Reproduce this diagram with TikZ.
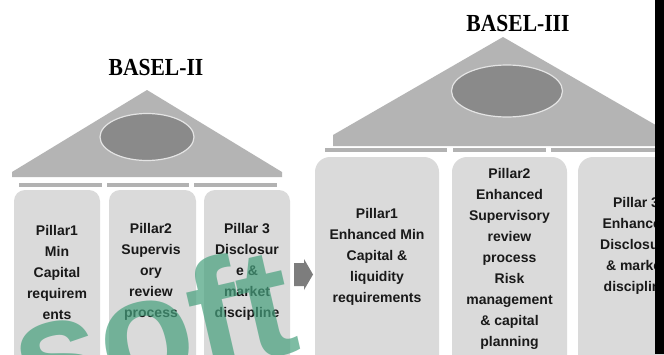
\documentclass[tikz,border=0pt]{standalone}
\usepackage{fontspec}
\setmainfont{Liberation Sans}
\newfontfamily\titlefont{Liberation Serif}
\usetikzlibrary{shapes.geometric}
\definecolor{roofgray}{RGB}{180,180,180}
\definecolor{ovalgray}{RGB}{138,138,138}
\definecolor{ovalrim}{RGB}{228,228,228}
\definecolor{boxgray}{RGB}{218,218,218}
\definecolor{bargray}{RGB}{178,178,178}
\definecolor{arrowgray}{RGB}{125,125,125}
\definecolor{wmgreen}{RGB}{70,160,125}
\definecolor{txt}{RGB}{25,25,25}
\begin{document}
\begin{tikzpicture}[x=1pt,y=-1pt,
  pillarbox/.style={fill=boxgray, draw=none, rounded corners=11pt},
  pillarboxb/.style={fill=boxgray, draw=none, rounded corners=15pt},
  bar/.style={fill=bargray, draw=none},
  roof/.style={fill=roofgray, draw=none},
  oval/.style={ellipse, fill=ovalgray, draw=ovalrim, line width=1.2pt, inner sep=0pt},
  ptext/.style={font=\bfseries\fontsize{14}{21}\selectfont, text=txt, align=center, inner sep=0pt},
  title/.style={font=\titlefont\bfseries\fontsize{24.5}{24.5}\selectfont, text=black, xscale=0.88, inner sep=0pt},
  wmark/.style={font=\bfseries\fontsize{155}{155}\selectfont, text=wmgreen, opacity=0.7, rotate=13, anchor=base west, inner sep=0pt}
]
\useasboundingbox (0,0) rectangle (664,354);
\clip (0,0) rectangle (664,354);
\fill[white] (0,0) rectangle (664,354);

% ---------- BASEL-II ----------
\node[title] (t2) at (156,68) {BASEL-II};
\fill[roof] (12,177) -- (12,172) -- (147,90) -- (282,172) -- (282,177) -- cycle;
\node[oval, minimum width=94pt, minimum height=47pt] (o2) at (147,137) {};
\fill[bar] (19,183) rectangle (102,187);
\fill[bar] (107,183) rectangle (189,187);
\fill[bar] (194,183) rectangle (277,187);
\fill[pillarbox] (14,190) rectangle (100,390);
\fill[pillarbox] (109,190) rectangle (196,390);
\fill[pillarbox] (204,190) rectangle (290,390);
\node[ptext] (a1) at (57,272) {Pillar1\\Min\\Capital\\requirem\\ents};
\node[ptext] (a2) at (151,272) {Pillar2\\Supervis\\ory\\review\\process};
\node[ptext] (a3) at (247,272) {Pillar 3\\Disclosur\\e \&\\market\\discipline};

% ---------- arrow ----------
\fill[arrowgray] (294,263) -- (304,263) -- (304,259) -- (313,274.5) -- (304,290) -- (304,286) -- (294,286) -- cycle;

% ---------- BASEL-III ----------
\node[title] (t3) at (518,24) {BASEL-III};
\fill[roof] (333,146) -- (333,135) -- (503,37) -- (673,135) -- (673,146) -- cycle;
\node[oval, minimum width=111pt, minimum height=52pt] (o3) at (507,91) {};
\fill[bar] (325,148) rectangle (447,152);
\fill[bar] (453,148) rectangle (546,152);
\fill[bar] (551,148) rectangle (660,152);
\fill[pillarboxb] (315,157) rectangle (439,390);
\fill[pillarboxb] (452,157) rectangle (567,390);
\fill[pillarboxb] (578,157) rectangle (694,390);
\node[ptext] (b1) at (377,257) {Pillar1\\Enhanced Min\\Capital \&\\liquidity\\requirements};
\node[ptext] (b2) at (509.5,259) {Pillar2\\Enhanced\\Supervisory\\review\\process\\Risk\\management\\\& capital\\planning};
\node[ptext] (b3) at (636,246) {Pillar 3\\Enhanced\\Disclosure\\\& market\\discipline};

% ---------- watermark ----------
\node[wmark] (wm) at (26,414) {soft};

% ---------- right edge bar ----------
\fill[black] (655,0) rectangle (664,354);
\end{tikzpicture}
\end{document}
